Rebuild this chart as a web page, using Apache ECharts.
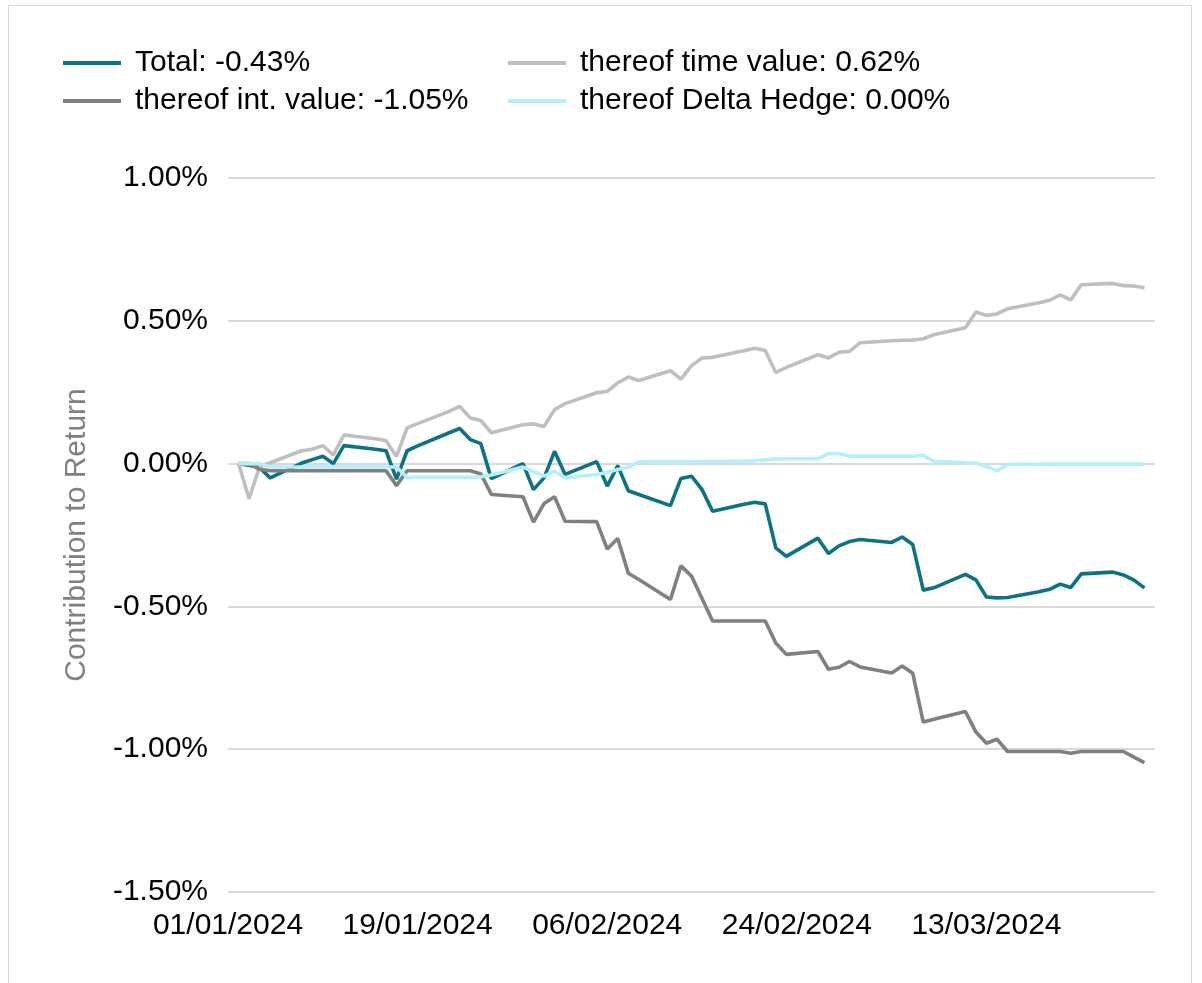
<!DOCTYPE html>
<html>
<head>
    <meta charset="utf-8">
    <title>Contribution to Return</title>
    <script src="https://cdn.jsdelivr.net/npm/echarts@6/dist/echarts.min.js"></script>
    <style>
        body { margin: 0; background: #fff; }
        #frame { position: absolute; left: 8px; top: 5px; width: 1182px; height: 1000px; border: 1px solid #d9d9d9; }
        #main { position: absolute; left: 0; top: 0; width: 1202px; height: 983px; }
    </style>
</head>
<body>
<div id="frame"></div>
<div id="main"></div>

<script type="text/javascript">
    // business days shown on the chart
    var dates = [
        '2024-01-02', '2024-01-03', '2024-01-04', '2024-01-05',
        '2024-01-08', '2024-01-09', '2024-01-10', '2024-01-11', '2024-01-12',
        '2024-01-15', '2024-01-16', '2024-01-17', '2024-01-18', '2024-01-19',
        '2024-01-22', '2024-01-23', '2024-01-24', '2024-01-25', '2024-01-26',
        '2024-01-29', '2024-01-30', '2024-01-31', '2024-02-01', '2024-02-02',
        '2024-02-05', '2024-02-06', '2024-02-07', '2024-02-08', '2024-02-09',
        '2024-02-12', '2024-02-13', '2024-02-14', '2024-02-15', '2024-02-16',
        '2024-02-19', '2024-02-20', '2024-02-21', '2024-02-22', '2024-02-23',
        '2024-02-26', '2024-02-27', '2024-02-28', '2024-02-29', '2024-03-01',
        '2024-03-04', '2024-03-05', '2024-03-06', '2024-03-07', '2024-03-08',
        '2024-03-11', '2024-03-12', '2024-03-13', '2024-03-14', '2024-03-15',
        '2024-03-18', '2024-03-19', '2024-03-20', '2024-03-21', '2024-03-22',
        '2024-03-25', '2024-03-26', '2024-03-27', '2024-03-28'
    ];

    // values in %
    var total = [
        0, -0.006, -0.014, -0.05,
        0.002, 0.014, 0.026, 0, 0.063,
        0.05, 0.045, -0.054, 0.045, 0.062,
        0.108, 0.123, 0.084, 0.07, -0.053,
        0, -0.091, -0.05, 0.043, -0.038,
        0.007, -0.079, -0.007, -0.095, -0.108,
        -0.147, -0.052, -0.044, -0.091, -0.167,
        -0.142, -0.135, -0.141, -0.295, -0.325,
        -0.261, -0.315, -0.288, -0.273, -0.266,
        -0.276, -0.257, -0.283, -0.443, -0.435,
        -0.388, -0.407, -0.467, -0.47, -0.469,
        -0.449, -0.44, -0.422, -0.434, -0.386,
        -0.38, -0.39, -0.408, -0.435
    ];
    var timeValue = [
        0, -0.123, -0.01, 0.003,
        0.045, 0.05, 0.063, 0.03, 0.10,
        0.087, 0.08, 0.025, 0.125, 0.14,
        0.183, 0.20, 0.16, 0.151, 0.108,
        0.136, 0.139, 0.13, 0.189, 0.21,
        0.248, 0.253, 0.283, 0.303, 0.291,
        0.325, 0.296, 0.343, 0.37, 0.372,
        0.395, 0.404, 0.396, 0.319, 0.337,
        0.381, 0.37, 0.39, 0.393, 0.423,
        0.43, 0.432, 0.433, 0.437, 0.451,
        0.476, 0.531, 0.519, 0.524, 0.542,
        0.563, 0.572, 0.591, 0.573, 0.626,
        0.631, 0.623, 0.622, 0.616
    ];
    var intValue = [
        0, 0, -0.02, -0.025,
        -0.025, -0.025, -0.025, -0.025, -0.025,
        -0.025, -0.025, -0.077, -0.025, -0.025,
        -0.025, -0.025, -0.025, -0.036, -0.108,
        -0.116, -0.205, -0.14, -0.116, -0.202,
        -0.203, -0.299, -0.262, -0.384, -0.406,
        -0.476, -0.358, -0.394, -0.472, -0.551,
        -0.551, -0.551, -0.551, -0.628, -0.668,
        -0.658, -0.72, -0.713, -0.693, -0.712,
        -0.733, -0.709, -0.734, -0.905, -0.895,
        -0.868, -0.94, -0.979, -0.965, -1.008,
        -1.008, -1.008, -1.008, -1.014, -1.008,
        -1.008, -1.008, -1.028, -1.047
    ];
    var deltaHedge = [
        0, 0, 0, -0.012,
        -0.012, -0.012, -0.012, -0.012, -0.012,
        -0.012, -0.012, -0.012, -0.049, -0.048,
        -0.048, -0.048, -0.048, -0.046, -0.04,
        -0.012, -0.028, -0.044, -0.027, -0.05,
        -0.038, -0.03, -0.021, -0.013, 0.006,
        0.006, 0.006, 0.006, 0.007, 0.008,
        0.009, 0.01, 0.013, 0.016, 0.017,
        0.017, 0.035, 0.035, 0.026, 0.026,
        0.026, 0.026, 0.026, 0.029, 0.008,
        0.003, 0.002, -0.01, -0.025, -0.003,
        -0.002, -0.002, -0.002, -0.002, -0.002,
        -0.002, -0.002, -0.002, -0.002
    ];

    var seriesNames = [
        'Total: -0.43%',
        'thereof time value: 0.62%',
        'thereof int. value: -1.05%',
        'thereof Delta Hedge: 0.00%'
    ];
    var seriesColors = ['#0a7482', '#bfbfbf', '#808080', '#b4f0fa'];

    // x axis runs in days counted from 01/01/2024, ticks every 18 days
    var startMs = Date.UTC(2024, 0, 1);
    var dayMs = 86400000;
    var axisMaxDay = 88;
    var tickStep = 18;

    function dayIndex(s) {
        var p = s.split('-');
        return Math.round((Date.UTC(+p[0], +p[1] - 1, +p[2]) - startMs) / dayMs);
    }
    function dayLabel(v) {
        if (v % tickStep !== 0) return '';
        var d = new Date(startMs + v * dayMs);
        var dd = ('0' + d.getUTCDate()).slice(-2);
        var mm = ('0' + (d.getUTCMonth() + 1)).slice(-2);
        return dd + '/' + mm + '/' + d.getUTCFullYear();
    }
    function pairs(values) {
        return values.map(function (v, i) {
            return [dayIndex(dates[i]), v];
        });
    }

    var font = "'Liberation Sans', Arial, sans-serif";
    var allValues = [total, timeValue, intValue, deltaHedge];

    var myChart = echarts.init(document.getElementById('main'));
    var legendBase = {
        orient: 'vertical',
        top: 48,
        padding: 0,
        icon: 'rect',
        itemWidth: 58,
        itemHeight: 4,
        itemGap: 8,
        selectedMode: false,
        textStyle: {
            fontFamily: font,
            fontSize: 30,
            color: '#000',
            padding: [0, 0, 0, 9]
        }
    };
    var option = {
        backgroundColor: 'transparent',
        animation: false,
        legend: [
            Object.assign({}, legendBase, { left: 63, data: [seriesNames[0], seriesNames[2]] }),
            Object.assign({}, legendBase, { left: 508, data: [seriesNames[1], seriesNames[3]] })
        ],
        grid: {
            left: 228,
            right: 47,
            top: 178,
            bottom: 91,
            containLabel: false
        },
        xAxis: {
            type: 'value',
            min: 0,
            max: axisMaxDay,
            interval: tickStep,
            axisLine: { show: false },
            axisTick: { show: false },
            splitLine: { show: false },
            axisLabel: {
                showMaxLabel: false,
                margin: 19,
                fontFamily: font,
                fontSize: 30,
                color: '#000',
                formatter: dayLabel
            }
        },
        yAxis: {
            type: 'value',
            min: -1.5,
            max: 1.0,
            interval: 0.5,
            name: 'Contribution to Return',
            nameLocation: 'middle',
            nameGap: 136,
            nameTextStyle: {
                fontFamily: font,
                fontSize: 30,
                color: '#808080'
            },
            axisLine: { show: false },
            axisTick: { show: false },
            splitLine: { lineStyle: { color: '#d9d9d9', width: 2 } },
            axisLabel: {
                margin: 20,
                fontFamily: font,
                fontSize: 30,
                color: '#000',
                formatter: function (v) {
                    return v.toFixed(2) + '%';
                }
            }
        },
        series: allValues.map(function (vals, i) {
            return {
                name: seriesNames[i],
                type: 'line',
                data: pairs(vals),
                symbol: 'none',
                color: seriesColors[i],
                lineStyle: { width: 3.6, color: seriesColors[i] },
                z: 2 + i
            };
        })
    };
    myChart.setOption(option);
</script>
</body>
</html>
